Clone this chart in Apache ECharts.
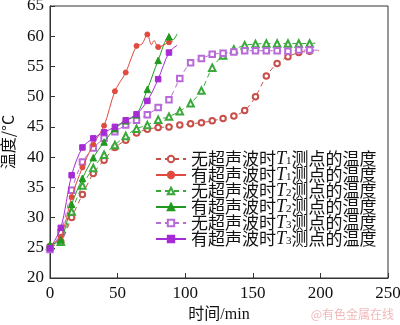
<!DOCTYPE html>
<html><head><meta charset="utf-8">
<script src="https://cdn.jsdelivr.net/npm/echarts@6/dist/echarts.min.js"></script>
<style>html,body{margin:0;padding:0;background:#fff}#c{width:400px;height:325px}</style>
</head><body><div id="c"></div>
<script>
// time (min) at which markers were recorded
const timesShort = [0, 8, 16, 24, 32, 40, 48, 56, 64, 72, 80, 88];
const timesLong = [0, 8, 16, 24, 32, 40, 48, 56, 64, 72, 80, 88, 96, 104, 112, 120, 128, 136, 144, 152, 160, 168, 176, 184, 192];

// without ultrasound (dashed)
const noT1 = [25.2, 26.0, 30.0, 33.8, 37.3, 39.5, 41.6, 42.8, 44.0, 44.6, 44.9, 45.0, 45.3, 45.5, 45.7, 46.0, 46.4, 46.8, 47.7, 50.0, 53.4, 55.5, 56.6, 57.3, 57.5];
const noT1End = [199, 57.6];
const noT2 = [25.3, 26.0, 31.0, 35.3, 38.2, 40.4, 42.0, 43.5, 44.7, 45.3, 46.2, 46.7, 47.6, 48.9, 51.0, 54.8, 56.8, 57.8, 58.5, 58.7, 58.8, 58.8, 58.8, 58.8, 58.8];
const noT2End = [198, 58.9];
const noT3 = [24.7, 27.5, 34.5, 39.2, 41.5, 43.1, 44.2, 45.3, 46.1, 47.0, 48.2, 49.5, 53.0, 55.6, 56.3, 57.0, 57.2, 57.4, 57.6, 57.6, 57.6, 57.6, 57.5, 57.7, 57.7];
const noT3End = [198, 57.7];

// with ultrasound (solid)
const yesT1 = [25.3, 26.8, 33.4, 38.3, 42.1, 45.2, 50.9, 54.0, 58.4, 60.3, 58.2, 59.0];
const yesT1Extra = [[68, 58.7], [75, 58.6], [77, 59.3], [91, 59.2]];
const yesT2 = [25.5, 26.3, 32.2, 36.5, 39.9, 42.5, 44.7, 46.0, 47.0, 51.2, 56.0, 59.9];
const yesT2Extra = [[91, 59.4], [94, 60.4]];
const yesT3 = [24.9, 28.3, 37.0, 41.6, 43.1, 44.1, 45.0, 46.1, 47.1, 49.3, 52.9, 57.3];
const yesT3Extra = [[94, 58.5]];

const xTicks = [0, 50, 100, 150, 200, 250];
const yTicks = [20, 25, 30, 35, 40, 45, 50, 55, 60, 65];

const legendNames = [
  '无超声波时{t|T}{s|1}测点的温度',
  '有超声波时{t|T}{s|1}测点的温度',
  '无超声波时{t|T}{s|2}测点的温度',
  '有超声波时{t|T}{s|2}测点的温度',
  '无超声波时{t|T}{s|3}测点的温度',
  '有超声波时{t|T}{s|3}测点的温度'
];

function build(times, vals, extra, end) {
  const pts = times.map((t, i) => [t, vals[i]]);
  const all = pts.map(p => ({value: p}));
  (extra || []).forEach(p => all.push({value: p, symbol: 'none'}));
  if (end) all.push({value: end, symbol: 'none'});
  all.sort((a, b) => a.value[0] - b.value[0]);
  return all;
}

const RED = '#e04a3f', GREEN = '#1f9a1f', PURPLE = '#a52bd4';
const RED_D = '#c9504a', GREEN_D = '#3aa83a', PURPLE_D = '#b86ad8';

function ser(name, data, color, dashed, symbol, size) {
  return {
    name: name, type: 'line', data: data, smooth: 0.3,
    symbol: symbol, symbolSize: size, showAllSymbol: true,
    lineStyle: {color: color, width: 1, type: dashed ? [5, 4] : 'solid'},
    itemStyle: {color: color, borderColor: color, borderWidth: 1},
    emphasis: {disabled: true}, animation: false, z: dashed ? 2 : 3
  };
}

const chart = echarts.init(document.getElementById('c'), null, {renderer: 'canvas'});
chart.setOption({
  backgroundColor: '#fff',
  animation: false,
  grid: {left: 50, right: 12, top: 6, bottom: 47, show: true, borderColor: '#333', borderWidth: 1,
    containLabel: false, outerBoundsMode: 'none'},
  xAxis: {
    type: 'value', min: 0, max: 250, interval: 50,
    name: '时间/min', nameLocation: 'middle', nameGap: 27,
    nameTextStyle: {fontFamily: 'Liberation Serif, Noto Sans CJK SC', fontSize: 16, color: '#111'},
    axisLine: {lineStyle: {color: '#333'}},
    axisTick: {inside: true, length: 5, lineStyle: {color: '#333'}},
    axisLabel: {fontFamily: 'Liberation Serif', fontSize: 17, color: '#111', margin: 7,
      formatter: v => xTicks.includes(v) ? String(v) : ''},
    splitLine: {show: false}
  },
  yAxis: {
    type: 'value', min: 20, max: 65, interval: 5,
    name: '温度/°C', nameLocation: 'middle', nameGap: 25, nameRotate: 90,
    nameTextStyle: {fontFamily: 'Noto Sans CJK SC, Liberation Serif', fontSize: 16, color: '#111'},
    axisLine: {lineStyle: {color: '#333'}},
    axisTick: {inside: true, length: 5, lineStyle: {color: '#333'}},
    axisLabel: {fontFamily: 'Liberation Serif', fontSize: 17, color: '#111', margin: 6,
      formatter: v => yTicks.includes(v) ? String(v) : ''},
    splitLine: {show: false}
  },
  legend: {
    orient: 'vertical', left: 155, top: 149, padding: 0,
    itemWidth: 30, itemHeight: 8, itemGap: -3,
    data: legendNames,
    textStyle: {
      fontFamily: 'Noto Sans CJK SC', fontSize: 17, color: '#111', lineHeight: 16,
      rich: {
        t: {fontFamily: 'Liberation Serif', fontStyle: 'italic', fontSize: 18, color: '#111', lineHeight: 16},
        s: {fontFamily: 'Liberation Serif', fontSize: 11, color: '#111', verticalAlign: 'bottom', padding: [7, 0, 0, 0], lineHeight: 16}
      }
    }
  },
  graphic: [{
    type: 'text', right: 6, bottom: 5,
    style: {text: '@有色金属在线', fill: '#f2b8b8', font: '12px Noto Sans CJK SC'}
  }],
  series: [
    ser(legendNames[0], build(timesLong, noT1, null, noT1End), RED_D, true, 'emptyCircle', 5.5),
    ser(legendNames[1], build(timesShort, yesT1, yesT1Extra, null), RED, false, 'circle', 5),
    ser(legendNames[2], build(timesLong, noT2, null, noT2End), GREEN_D, true, 'emptyTriangle', 6.5),
    ser(legendNames[3], build(timesShort, yesT2, yesT2Extra, null), GREEN, false, 'triangle', 6.5),
    ser(legendNames[4], build(timesLong, noT3, null, noT3End), PURPLE_D, true, 'emptyRect', 5.5),
    ser(legendNames[5], build(timesShort, yesT3, yesT3Extra, null), PURPLE, false, 'rect', 5.5)
  ]
});
</script></body></html>
